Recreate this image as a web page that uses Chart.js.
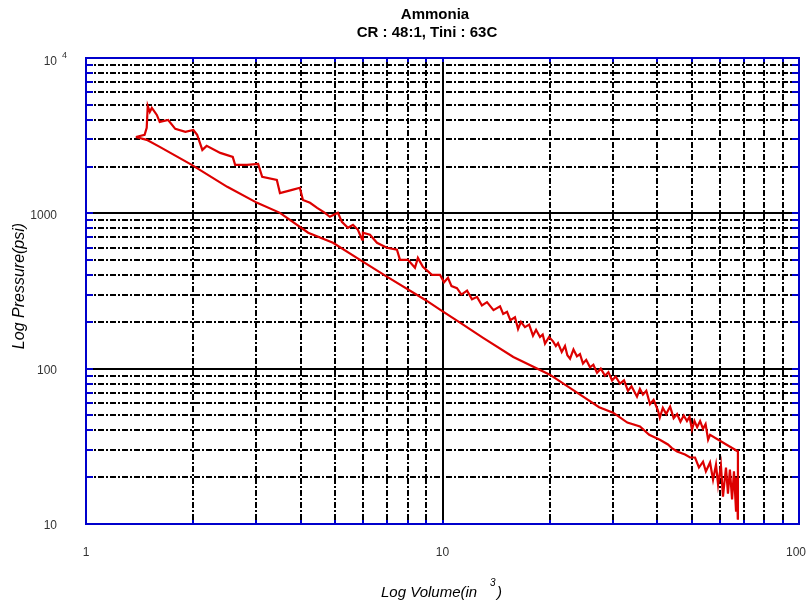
<!DOCTYPE html>
<html>
<head>
<meta charset="utf-8">
<script src="https://cdn.jsdelivr.net/npm/chart.js@4.4.0/dist/chart.umd.min.js"></script>
<style>
  html, body { margin: 0; padding: 0; background: #fff; }
</style>
</head>
<body>
<canvas id="chart" width="808" height="608"></canvas>
<script>
// upper (noisy) branch of the loop, volume in in^3, pressure in psi
const upperVolume = [1.38, 1.46, 1.48, 1.49, 1.51, 1.53, 1.58, 1.61, 1.70, 1.78, 1.90, 2.00, 2.05, 2.12, 2.18,
  2.38, 2.58, 2.62, 2.83, 3.04, 3.12, 3.43, 3.50, 3.81, 3.98, 4.06, 4.25, 4.45, 4.68, 4.83, 5.09, 5.22, 5.43,
  5.61, 5.79, 5.95, 5.98, 6.26, 6.55, 6.98, 7.45, 7.60, 8.00, 8.37, 8.53, 8.81, 9.34,
  9.84, 10.1, 10.36, 10.6, 10.98, 11.3, 11.72, 12.1, 12.5, 12.9, 13.33, 13.9, 14.5, 14.8, 15.17, 15.5,
  15.97, 16.29, 16.6, 17.03, 17.5, 17.94, 18.3, 18.77, 19.1, 19.39, 19.9, 20.42, 20.8, 21.09, 21.6, 22.06,
  22.4, 22.79, 23.3, 23.83, 24.3, 24.78, 25.3, 25.93, 26.5, 27.13, 27.8, 28.57, 29.2, 29.9, 30.6, 31.47,
  32.3, 33.13, 33.9, 35.12, 35.8, 36.5, 37.3, 38.2, 39.1, 40.2, 40.7, 41.5, 42.4, 43.5, 44.5, 45.5, 46.5,
  47.5, 48.5, 49.3, 50.1, 50.9, 51.8, 52.8, 53.8, 54.7, 55.6, 56.3, 67.4, 67.4];
const upperPressure = [3100, 3200, 3550, 4910, 4500, 4770, 4300, 3880, 3990, 3500, 3350, 3440, 3200, 2560, 2720,
  2450, 2310, 2050, 2050, 2080, 1720, 1640, 1350, 1420, 1460, 1220, 1170, 1085, 1007, 950, 1007, 881, 807,
  844, 783, 676, 750, 728, 646, 600, 583, 502, 502, 446, 517, 453, 402,
  402, 360, 385, 340, 330, 300, 318, 280, 290, 255, 268, 238, 252, 225, 232, 205,
  214, 180, 200, 185, 192, 163, 178, 160, 166, 145, 160, 150, 140, 146, 128, 140,
  122, 116, 133, 120, 124, 108, 114, 102, 106, 94, 100, 90, 95, 84, 89, 80,
  84, 72, 77, 66, 74, 68, 72, 59, 63, 54, 48.5, 56, 51, 57, 48, 51, 45.5,
  50, 46, 49, 40.5, 46, 42, 46, 41, 44, 34.9, 37.5, 29.3, 10.7];

// lower branch, from the right end back to the start
const lowerVolume = [67.4, 67.0, 66.6, 65.7, 64.9, 64.0, 63.2, 62.4, 61.2, 60.4, 59.3, 58.5, 57.4, 56.3, 54.8,
  53.8, 52.4, 51.1, 49.5, 47.9, 45.5, 44.0, 42.9, 40.7, 38.0, 35.8, 33.0, 30.1, 27.5, 24.8, 20.0, 15.8, 13.0,
  11.2, 9.84, 8.93, 6.98, 5.87, 4.93, 4.20, 3.50, 3.02, 2.49, 1.98, 1.61, 1.48, 1.38];
const lowerPressure = [10.7, 19.9, 12.0, 21.8, 14.4, 22.4, 15.7, 23.1, 15.0, 23.8, 17.9, 24.1, 19.3, 24.9, 21.8,
  25.2, 23.1, 26.8, 26.8, 28.0, 29.3, 30.8, 32.5, 34.9, 37.5, 42.4, 45.0, 52.1, 56.5, 66, 91.5, 119, 158,
  198, 240, 278, 391, 502, 646, 750, 1007, 1168, 1481, 2050, 2677, 2970, 3100];

const xLabels = [1, 10, 100];
const yLabels = [10, 100, 1000, 10000];
const xGrid = [2, 3, 4, 5, 6, 7, 8, 9, 10, 20, 30, 40, 50, 60, 70, 80, 90];
const yGrid = [20, 30, 40, 50, 60, 70, 80, 90, 100, 200, 300, 400, 500, 600, 700, 800, 900,
  1000, 2000, 3000, 4000, 5000, 6000, 7000, 8000, 9000];
const solidGrid = [10, 100, 1000];

const toPoints = (xs, ys) => xs.map((v, i) => ({ x: v, y: ys[i] }));

const RED = "#dd0000";
const BLUE = "#0000cc";

const frame = {
  id: "frame",
  beforeDatasetsDraw(chart) {
    const { ctx, chartArea: a, scales } = chart;
    const x = scales.x, y = scales.y;
    ctx.save();
    ctx.strokeStyle = "#000";
    ctx.lineWidth = 2;
    xGrid.forEach((v) => {
      const px = Math.round(x.getPixelForValue(v));
      ctx.setLineDash(v === 10 ? [] : [6, 2, 2, 2]);
      ctx.beginPath();
      ctx.moveTo(px, a.top);
      ctx.lineTo(px, a.bottom);
      ctx.stroke();
    });
    yGrid.forEach((v) => {
      const py = Math.round(y.getPixelForValue(v));
      ctx.setLineDash(solidGrid.includes(v) ? [] : [6, 2, 2, 2]);
      ctx.beginPath();
      ctx.moveTo(a.left, py);
      ctx.lineTo(a.right, py);
      ctx.stroke();
    });
    ctx.restore();
  },
  afterDatasetsDraw(chart) {
    const { ctx, chartArea: a, scales } = chart;
    const x = scales.x, y = scales.y;
    ctx.save();
    ctx.setLineDash([]);
    ctx.strokeStyle = BLUE;
    ctx.lineWidth = 2;
    // small inward ticks
    yGrid.forEach((v) => {
      const py = Math.round(y.getPixelForValue(v));
      ctx.beginPath();
      ctx.moveTo(a.left, py);
      ctx.lineTo(a.left + 7, py);
      ctx.moveTo(a.right, py);
      ctx.lineTo(a.right - 7, py);
      ctx.stroke();
    });
    xGrid.forEach((v) => {
      const px = Math.round(x.getPixelForValue(v));
      ctx.beginPath();
      ctx.moveTo(px, a.bottom);
      ctx.lineTo(px, a.bottom - 4);
      ctx.moveTo(px, a.top);
      ctx.lineTo(px, a.top + 4);
      ctx.stroke();
    });
    ctx.strokeRect(a.left, a.top, a.right - a.left, a.bottom - a.top);
    ctx.restore();
  },
  afterDraw(chart) {
    const { ctx, scales } = chart;
    const x = scales.x, y = scales.y;
    ctx.save();
    ctx.fillStyle = "#000";
    ctx.textAlign = "center";
    ctx.textBaseline = "middle";
    ctx.font = "bold 15px 'Liberation Sans', Arial, sans-serif";
    ctx.fillText("Ammonia", 435, 15);
    ctx.fillText("CR : 48:1, Tini : 63C", 427, 33);

    // tick labels
    ctx.fillStyle = "#333";
    ctx.font = "12px 'Liberation Sans', Arial, sans-serif";
    xLabels.forEach((v) => {
      let px = x.getPixelForValue(v);
      if (v === 100) px -= 3;
      ctx.fillText(String(v), px, 553);
    });
    ctx.textAlign = "right";
    yLabels.forEach((v) => {
      const py = y.getPixelForValue(v);
      if (v === 10000) {
        ctx.fillText("10", 57, py + 4);
        ctx.font = "9px 'Liberation Sans', Arial, sans-serif";
        ctx.textAlign = "left";
        ctx.fillText("4", 62, py - 2);
        ctx.font = "12px 'Liberation Sans', Arial, sans-serif";
        ctx.textAlign = "right";
      } else {
        ctx.fillText(String(v), 57, py + 2);
      }
    });

    // axis titles
    ctx.fillStyle = "#000";
    ctx.font = "italic 15px 'Liberation Sans', Arial, sans-serif";
    ctx.textAlign = "left";
    ctx.fillText("Log Volume(in", 381, 593);
    ctx.fillText(")", 497, 593);
    ctx.font = "italic 10px 'Liberation Sans', Arial, sans-serif";
    ctx.fillText("3", 490, 583);
    ctx.translate(20, 286);
    ctx.rotate(-Math.PI / 2);
    ctx.textAlign = "center";
    ctx.font = "italic 16px 'Liberation Sans', Arial, sans-serif";
    ctx.fillText("Log Pressure(psi)", 0, 0);
    ctx.restore();
  },
};

new Chart(document.getElementById("chart"), {
  type: "scatter",
  data: {
    datasets: [
      { data: toPoints(upperVolume, upperPressure), showLine: true, borderColor: RED, borderWidth: 2.2, pointRadius: 0, tension: 0 },
      { data: toPoints(lowerVolume, lowerPressure), showLine: true, borderColor: RED, borderWidth: 2.2, pointRadius: 0, tension: 0 },
    ],
  },
  options: {
    responsive: false,
    animation: false,
    events: [],
    layout: { padding: { left: 86, top: 58, right: 9, bottom: 84 } },
    plugins: { legend: { display: false }, tooltip: { enabled: false } },
    scales: {
      x: { type: "logarithmic", min: 1, max: 100, display: false },
      y: { type: "logarithmic", min: 10, max: 10000, display: false },
    },
  },
  plugins: [frame],
});
</script>
</body>
</html>
